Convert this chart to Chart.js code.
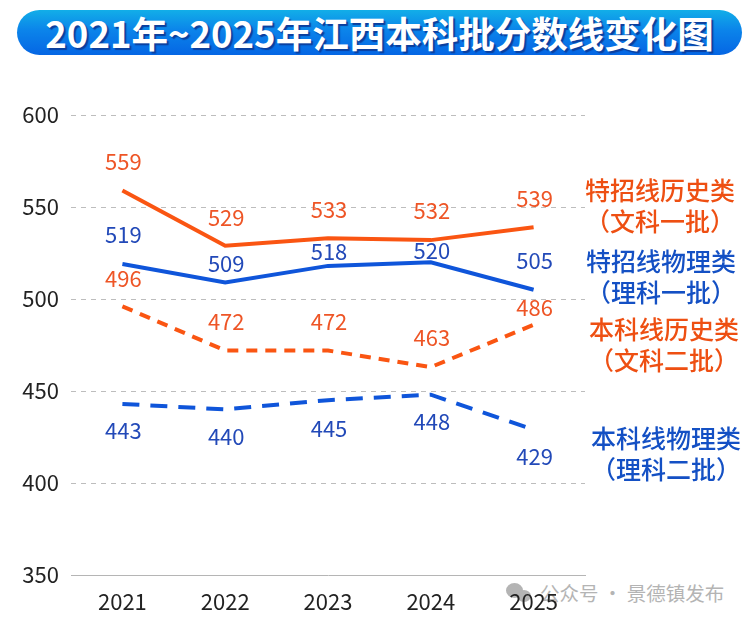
<!DOCTYPE html>
<html>
<head>
<meta charset="utf-8">
<title>2021年~2025年江西本科批分数线变化图</title>
<script src="https://cdn.jsdelivr.net/npm/chart.js@4"></script>
<style>
  html, body { margin: 0; padding: 0; background: #fff; }
  #wrap { position: relative; width: 749px; height: 624px; overflow: hidden;
    font-family: "Noto Sans CJK SC", "Noto Sans", sans-serif; }
  #scoreChart { position: absolute; left: 0; top: 0; z-index: 2; }
  #banner { position: absolute; left: 17px; top: 10px; width: 725px; height: 45px; border-radius: 23px;
    background: linear-gradient(180deg, #12aee8 0%, #0b84ea 45%, #0566e4 100%);
    color: #fff; font-size: 36.5px; font-weight: 700; line-height: 45px; text-align: center;
    white-space: nowrap; text-shadow: 2px 2px 1px #0b3f9e; }
  .side { position: absolute; z-index: 3; width: 190px; text-align: center; font-size: 25px; font-weight: 500; line-height: 31px; }
  .orange { color: #ee4f12; }
  .blue { color: #1450c4; }
  #mark { position: absolute; left: 540px; top: 581px; font-size: 19.5px; line-height: 24px; color: #b4b4b4; white-space: nowrap; z-index: 1; }
  .dot { position: absolute; border-radius: 50%; background: #b4b4b4; z-index: 1; }
</style>
</head>
<body>
<div id="wrap">
  <div id="banner">2021年~2025年江西本科批分数线变化图</div>
  <canvas id="scoreChart" width="749" height="624"></canvas>
  <div class="side orange" style="left:565px;top:174px">特招线历史类<br>（文科一批）</div>
  <div class="side blue" style="left:566px;top:245px">特招线物理类<br>（理科一批）</div>
  <div class="side orange" style="left:569px;top:313px">本科线历史类<br>（文科二批）</div>
  <div class="side blue" style="left:571px;top:422px">本科线物理类<br>（理科二批）</div>
  <div class="dot" style="left:506px;top:583px;width:17px;height:15px"></div>
  <div class="dot" style="left:517px;top:590px;width:14px;height:12px"></div>
  <div id="mark">公众号 · 景德镇发布</div>
</div>
<script>
const years = ['2021', '2022', '2023', '2024', '2025'];
const yTicks = [350, 400, 450, 500, 550, 600];

const tezhaoHistory = [559, 529, 533, 532, 539];
const tezhaoPhysics = [519, 509, 518, 520, 505];
const benkeHistory = [496, 472, 472, 463, 486];
const benkePhysics = [443, 440, 445, 448, 429];

// how far each value label sits from its point (px)
const tezhaoHistoryOffset = [-29, -28, -29, -29, -29];
const tezhaoPhysicsOffset = [-29, -19, -14, -12, -29];
const benkeHistoryOffset = [-28, -29, -29, -29, -17];
const benkePhysicsOffset = [27, 27, 28, 27, 27];

const valueLabels = {
  id: 'valueLabels',
  afterDatasetsDraw(chart) {
    const ctx = chart.ctx;
    ctx.save();
    ctx.font = '22px "Noto Sans CJK SC", "Noto Sans", sans-serif';
    ctx.textAlign = 'center';
    ctx.textBaseline = 'middle';
    chart.data.datasets.forEach((ds, i) => {
      ctx.fillStyle = ds.labelColor;
      chart.getDatasetMeta(i).data.forEach((pt, j) => {
        ctx.fillText(ds.data[j], pt.x + 1, pt.y + ds.labelOffset[j]);
      });
    });
    ctx.restore();
  }
};

new Chart(document.getElementById('scoreChart'), {
  type: 'line',
  data: {
    labels: years,
    datasets: [
      { label: '特招线历史类', data: tezhaoHistory, labelOffset: tezhaoHistoryOffset, labelColor: '#ee5526',
        borderColor: '#fa5512', borderWidth: 4 },
      { label: '特招线物理类', data: tezhaoPhysics, labelOffset: tezhaoPhysicsOffset, labelColor: '#2249b8',
        borderColor: '#0f55da', borderWidth: 4 },
      { label: '本科线历史类', data: benkeHistory, labelOffset: benkeHistoryOffset, labelColor: '#ee5526',
        borderColor: '#fa5512', borderWidth: 4, borderDash: [11, 8] },
      { label: '本科线物理类', data: benkePhysics, labelOffset: benkePhysicsOffset, labelColor: '#2249b8',
        borderColor: '#0f55da', borderWidth: 4, borderDash: [17, 11] }
    ]
  },
  options: {
    responsive: false,
    animation: false,
    devicePixelRatio: 1,
    layout: { padding: { top: 115, right: 164, bottom: 0, left: 0 } },
    elements: { point: { radius: 0 }, line: { tension: 0, borderCapStyle: 'butt' } },
    plugins: { legend: { display: false }, tooltip: { enabled: false } },
    scales: {
      x: {
        offset: true,
        afterFit(axis) { axis.height = 49; },
        grid: { display: false },
        border: { color: '#b5b5b5', width: 1 },
        ticks: { color: '#222', padding: 5, maxRotation: 0,
          font: { size: 22, family: '"Noto Sans CJK SC", "Noto Sans", sans-serif' } }
      },
      y: {
        min: 350,
        max: 600,
        afterFit(axis) { axis.width = 71; },
        afterBuildTicks(axis) { axis.ticks = yTicks.map(v => ({ value: v })); },
        border: { display: false, dash: [5, 5] },
        grid: {
          drawTicks: false,
          lineWidth: 1,
          color: ctx => ctx.tick.value === 350 ? 'transparent' : '#bdbdbd'
        },
        ticks: { color: '#222', padding: 12,
          font: { size: 22, family: '"Noto Sans CJK SC", "Noto Sans", sans-serif' } }
      }
    }
  },
  plugins: [valueLabels]
});
</script>
</body>
</html>
